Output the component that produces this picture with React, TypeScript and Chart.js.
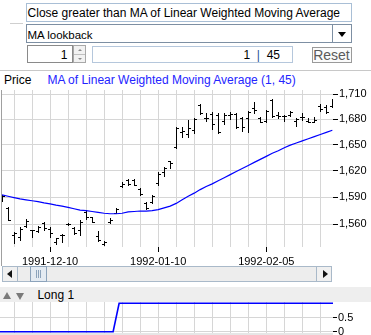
import React, { useEffect, useRef } from 'react';
import { Chart, registerables } from 'chart.js';

Chart.register(...registerables);
Chart.defaults.font.family = 'Arial, "Liberation Sans", sans-serif';

// ---------- data ----------
const barOpen = [
  1589.0, 1578.0, 1547.9, 1545.8, 1557.8, 1553.0, 1552.3, 1560.9, 1554.5, 1539.9,
  1548.5, 1560.4, 1555.6, 1553.4, 1573.2, 1567.8, 1546.8, 1538.7, 1562.2, 1572.2,
  1602.7, 1608.9, 1608.9, 1599.3, 1583.4, 1584.5, 1605.5, 1618.3, 1630.7, 1646.9,
  1664.8, 1662.6, 1667.3, 1697.1, 1681.6, 1686.4, 1685.2, 1678.0, 1685.2, 1686.4,
  1681.6, 1681.9, 1693.5, 1681.5, 1678.0, 1702.5, 1685.2, 1683.6, 1684.6, 1678.0,
  1682.8, 1677.5, 1677.0, 1695.3, 1694.7, 1695.8,
];
const barHigh = [
  1592.4, 1578.6, 1551.6, 1556.9, 1565.2, 1553.4, 1557.8, 1562.3, 1556.3, 1544.8,
  1548.7, 1561.6, 1556.3, 1564.4, 1575.5, 1568.2, 1552.3, 1541.4, 1566.4, 1578.3,
  1607.2, 1610.7, 1610.7, 1600.0, 1584.8, 1592.4, 1618.6, 1624.6, 1631.6, 1671.3,
  1671.2, 1679.2, 1681.3, 1698.2, 1687.6, 1688.1, 1687.2, 1687.6, 1688.6, 1687.4,
  1682.1, 1690.0, 1700.6, 1682.1, 1690.5, 1703.7, 1688.1, 1685.2, 1689.5, 1681.3,
  1687.2, 1681.0, 1682.5, 1698.6, 1697.1, 1703.9,
];
const barLow = [
  1585.6, 1564.0, 1539.6, 1542.5, 1556.9, 1545.4, 1550.9, 1553.4, 1546.0, 1538.7,
  1540.2, 1558.9, 1549.1, 1548.5, 1566.0, 1561.9, 1541.4, 1537.6, 1560.9, 1571.9,
  1601.8, 1603.8, 1603.8, 1592.4, 1577.3, 1583.1, 1603.8, 1613.7, 1622.8, 1646.0,
  1659.1, 1659.5, 1663.4, 1685.8, 1677.4, 1668.5, 1663.4, 1674.5, 1680.4, 1669.8,
  1666.2, 1665.3, 1687.6, 1676.4, 1677.0, 1682.2, 1681.0, 1677.4, 1683.6, 1671.8,
  1679.2, 1676.4, 1676.4, 1689.3, 1687.6, 1695.0,
];
const barClose = [
  1591.3, 1564.5, 1550.0, 1554.5, 1563.7, 1553.0, 1556.7, 1555.6, 1550.1, 1544.4,
  1548.5, 1560.4, 1550.1, 1562.2, 1567.8, 1562.2, 1542.5, 1540.9, 1564.4, 1577.3,
  1605.0, 1605.0, 1604.0, 1593.0, 1578.1, 1591.3, 1616.3, 1623.2, 1628.9, 1669.8,
  1666.0, 1670.1, 1680.0, 1687.6, 1681.0, 1674.5, 1665.4, 1684.6, 1685.8, 1670.9,
  1670.3, 1689.1, 1690.5, 1677.0, 1690.0, 1684.0, 1684.0, 1683.6, 1688.6, 1680.4,
  1682.8, 1677.0, 1678.6, 1691.7, 1688.1, 1703.1,
];
const maValues = [
  1592.5, 1591.0, 1589.5, 1588.0, 1587.0, 1586.0, 1585.0, 1583.5, 1582.5, 1581.0,
  1580.0, 1578.5, 1577.0, 1575.5, 1575.0, 1574.0, 1573.0, 1572.0, 1571.5, 1571.5,
  1572.0, 1573.5, 1574.0, 1574.5, 1574.5, 1575.0, 1576.0, 1578.0, 1580.0, 1583.0,
  1587.0, 1591.0, 1594.5, 1598.5, 1602.0, 1605.0, 1608.5, 1612.0, 1615.5, 1619.0,
  1622.5, 1626.0, 1629.5, 1633.0, 1636.5, 1640.0, 1643.0, 1646.5, 1649.5, 1652.0,
  1654.5, 1657.0, 1659.5, 1662.0, 1664.5, 1667.0,
];
// Long signal, first value belongs to the bar just before the visible window
const signalFirstBar = -1;
const longSignal = [
  0, 0, 0, 0, 0, 0, 0, 0, 0, 0,
  0, 0, 0, 0, 0, 0, 0, 0, 0, 0,
  1, 1, 1, 1, 1, 1, 1, 1, 1, 1,
  1, 1, 1, 1, 1, 1, 1, 1, 1, 1,
  1, 1, 1, 1, 1, 1, 1, 1, 1, 1,
  1, 1, 1, 1, 1, 1, 1,
];
const priceTicks = [1560, 1590, 1620, 1650, 1680, 1710];
const dateLabels = ['1991-12-10', '1992-01-10', '1992-02-05'];
const dateLabelBar = [8, 26, 44];
const signalTicks = [0, 0.5];

// ---------- layout ----------
const W = 371;
const MAIN_TOP = 88;
const MAIN_H = 180;
const PAD_LEFT = 2;
const AXIS_W = 38;
const XAXIS_H = 21;
const PLOT_W = W - PAD_LEFT - AXIS_W;
const X_MIN = 0;
const X_MAX = 55.11;
const PPU = PLOT_W / (X_MAX - X_MIN);
const SIGNAL_SHIFT = 0.5;
const LOW_TOP = 302;
const LOW_H = 50;
const LOW_MIN = X_MIN - SIGNAL_SHIFT - PAD_LEFT / PPU;
const LOW_MAX = X_MAX - SIGNAL_SHIFT;
const GRID = '#d6d6d6';
const FONT = { family: 'Arial, "Liberation Sans", sans-serif', size: 11 };

const gridBars = barOpen.map((_, i) => i).filter((i) => i % 3 === 2);

const ohlcPlugin = {
  id: 'ohlc',
  beforeDatasetsDraw(chart: any) {
    const { ctx, chartArea } = chart;
    const xs = chart.scales.x;
    const ys = chart.scales.y;
    ctx.save();
    ctx.beginPath();
    ctx.rect(chartArea.left, chartArea.top, chartArea.right - chartArea.left, chartArea.bottom - chartArea.top);
    ctx.clip();
    ctx.strokeStyle = '#000';
    ctx.lineWidth = 1;
    ctx.beginPath();
    for (let i = 0; i < barOpen.length; i++) {
      const px = Math.round(xs.getPixelForValue(i)) + 0.5;
      const ph = Math.round(ys.getPixelForValue(barHigh[i]));
      const pl = Math.round(ys.getPixelForValue(barLow[i]));
      const po = Math.round(ys.getPixelForValue(barOpen[i])) + 0.5;
      const pc = Math.round(ys.getPixelForValue(barClose[i])) + 0.5;
      ctx.moveTo(px, ph);
      ctx.lineTo(px, pl + 1);
      ctx.moveTo(px - 2.5, po);
      ctx.lineTo(px - 0.5, po);
      ctx.moveTo(px + 0.5, pc);
      ctx.lineTo(px + 2.5, pc);
    }
    ctx.stroke();
    ctx.restore();
  },
};

function Txt(props: { x: number; y: number; size?: number; color?: string; children: any; style?: any }) {
  const size = props.size ?? 12;
  return (
    <div
      style={{
        position: 'absolute',
        left: props.x,
        top: props.y,
        fontSize: size,
        lineHeight: `${size + 2}px`,
        color: props.color ?? '#000',
        whiteSpace: 'pre',
        ...props.style,
      }}
    >
      {props.children}
    </div>
  );
}

const abs = (s: any) => ({ position: 'absolute', boxSizing: 'border-box', ...s });

export default function App() {
  const mainRef = useRef<HTMLCanvasElement>(null);
  const lowRef = useRef<HTMLCanvasElement>(null);

  useEffect(() => {
    const main = new Chart(mainRef.current as HTMLCanvasElement, {
      type: 'line',
      data: {
        datasets: [
          {
            data: maValues.map((v, i) => ({ x: i, y: v })),
            borderColor: '#0000ff',
            borderWidth: 1.2,
            pointRadius: 0,
            fill: false,
            tension: 0,
          },
        ],
      },
      options: {
        animation: false,
        responsive: false,
        devicePixelRatio: 1,
        events: [],
        layout: { padding: { left: PAD_LEFT, top: 2, right: 0, bottom: 0 } },
        plugins: { legend: { display: false }, tooltip: { enabled: false } },
        scales: {
          x: {
            type: 'linear',
            min: X_MIN,
            max: X_MAX,
            bounds: 'data',
            afterBuildTicks: (s: any) => {
              s.ticks = gridBars.map((v) => ({ value: v }));
            },
            afterFit: (s: any) => {
              s.height = XAXIS_H;
              s.paddingLeft = 0;
              s.paddingRight = 0;
            },
            grid: {
              color: GRID,
              tickLength: 5,
              tickColor: (c: any) =>
                c.tick && dateLabelBar.includes(c.tick.value) ? '#000' : 'rgba(0,0,0,0)',
            },
            border: { display: false },
            ticks: {
              autoSkip: false,
              maxRotation: 0,
              minRotation: 0,
              padding: 3,
              color: '#000',
              font: FONT,
              callback: (v: any) => {
                const k = dateLabelBar.indexOf(Number(v));
                return k >= 0 ? dateLabels[k] : '';
              },
            },
          },
          y: {
            type: 'logarithmic',
            position: 'right',
            min: 1535,
            max: 1715,
            bounds: 'data',
            afterBuildTicks: (s: any) => {
              s.ticks = priceTicks.map((v) => ({ value: v }));
            },
            afterFit: (s: any) => {
              s.width = AXIS_W;
              s.paddingTop = 0;
              s.paddingBottom = 0;
            },
            grid: { color: GRID, tickColor: '#000', tickLength: 5 },
            border: { display: false },
            ticks: {
              padding: 1,
              color: '#000',
              font: FONT,
              callback: (v: any) => Number(v).toLocaleString('en-US'),
            },
          },
        },
      } as any,
      plugins: [ohlcPlugin],
    } as any);

    const low = new Chart(lowRef.current as HTMLCanvasElement, {
      type: 'line',
      data: {
        datasets: [
          {
            data: longSignal.map((v, i) => ({ x: i + signalFirstBar, y: v })),
            borderColor: '#0000ff',
            borderWidth: 1.6,
            pointRadius: 0,
            fill: false,
            tension: 0,
          },
        ],
      },
      options: {
        animation: false,
        responsive: false,
        devicePixelRatio: 1,
        events: [],
        layout: { padding: 0 },
        plugins: { legend: { display: false }, tooltip: { enabled: false } },
        scales: {
          x: {
            type: 'linear',
            min: LOW_MIN,
            max: LOW_MAX,
            bounds: 'data',
            afterBuildTicks: (s: any) => {
              s.ticks = gridBars.map((v) => ({ value: v - SIGNAL_SHIFT }));
            },
            afterFit: (s: any) => {
              s.height = 0;
              s.paddingLeft = 0;
              s.paddingRight = 0;
            },
            grid: { color: GRID, drawTicks: false },
            border: { display: false },
            ticks: { display: false, autoSkip: false },
          },
          y: {
            type: 'linear',
            position: 'right',
            min: -0.715,
            max: 1.046,
            bounds: 'data',
            afterBuildTicks: (s: any) => {
              s.ticks = signalTicks.map((v) => ({ value: v }));
            },
            afterFit: (s: any) => {
              s.width = AXIS_W;
              s.paddingTop = 0;
              s.paddingBottom = 0;
            },
            grid: { color: GRID, tickColor: '#000', tickLength: 4 },
            border: { display: false },
            ticks: { padding: 1, color: '#000', font: FONT, callback: (v: any) => String(v) },
          },
        },
      } as any,
    } as any);

    return () => {
      main.destroy();
      low.destroy();
    };
  }, []);

  return (
    <div
      style={{
        position: 'fixed',
        left: 0,
        top: 0,
        width: W,
        height: 335,
        overflow: 'hidden',
        background: '#fff',
        fontFamily: 'Arial, "Liberation Sans", sans-serif',
      }}
    >
      {/* condition text box */}
      <div style={abs({ left: 26, top: 3, width: 326, height: 19, border: '1px solid #a9bfd6' })} />
      <Txt x={27.6} y={5.6}>Close greater than MA of Linear Weighted Moving Average</Txt>

      {/* faint line */}
      <div style={abs({ left: 10, top: 23, width: 13, height: 1, background: '#cfcfcf' })} />

      {/* dropdown */}
      <div style={abs({ left: 26, top: 24, width: 326, height: 19, border: '1px solid #7d8fa3' })} />
      <div style={abs({ left: 332, top: 25, width: 1, height: 17, background: '#7d8fa3' })} />
      <div
        style={abs({
          left: 338,
          top: 31.5,
          width: 0,
          height: 0,
          borderLeft: '4.5px solid transparent',
          borderRight: '4.5px solid transparent',
          borderTop: '5px solid #000',
        })}
      />
      <Txt x={27.4} y={28.5} size={11.5}>MA lookback</Txt>

      {/* spinner */}
      <div style={abs({ left: 27, top: 45, width: 46, height: 18, border: '1px solid #8a8a8a' })} />
      <Txt x={27} y={48.1} style={{ width: 40.5, textAlign: 'right' }}>1</Txt>
      <div style={abs({ left: 73, top: 45, width: 13, height: 18, border: '1px solid #a8a8a8', background: '#f2f2f2' })} />
      <div style={abs({ left: 74, top: 53.5, width: 11, height: 1, background: '#c0c0c0' })} />
      <div
        style={abs({
          left: 77.5,
          top: 48.5,
          width: 0,
          height: 0,
          borderLeft: '2px solid transparent',
          borderRight: '2px solid transparent',
          borderBottom: '2px solid #8a8a8a',
        })}
      />
      <div
        style={abs({
          left: 77.5,
          top: 57.5,
          width: 0,
          height: 0,
          borderLeft: '2px solid transparent',
          borderRight: '2px solid transparent',
          borderTop: '2px solid #8a8a8a',
        })}
      />

      {/* range field */}
      <div style={abs({ left: 92, top: 45.5, width: 201, height: 17.5, border: '1px solid #b5c7dc' })} />
      <Txt x={92} y={48.1} style={{ width: 188, textAlign: 'right' }}>
        {'1  '}
        <span style={{ color: '#2a4f9a' }}>|</span>
        {'  45'}
      </Txt>

      {/* reset button */}
      <div style={abs({ left: 312, top: 47, width: 40, height: 16, border: '1px solid #9a9a9a', background: '#fbfbfb' })} />
      <Txt x={313.2} y={47.2} size={14} color="#5a5a5a">Reset</Txt>

      {/* chart header */}
      <div style={abs({ left: 0, top: 70, width: W, height: 1, background: '#c8c8c8' })} />
      <Txt x={4.1} y={72.8}>Price</Txt>
      <Txt x={47.4} y={72.8} color="#2424ff">MA of Linear Weighted Moving Average (1, 45)</Txt>

      {/* main chart */}
      <div style={abs({ left: 1, top: 90, width: 1, height: 176, background: '#a0a0a0' })} />
      <canvas
        ref={mainRef}
        width={W}
        height={MAIN_H}
        style={{ position: 'absolute', left: 0, top: MAIN_TOP, width: W, height: MAIN_H }}
      />

      {/* scrollbar */}
      <div style={abs({ left: 2, top: 266, width: 330, height: 16, background: '#ededed', border: '1px solid #a9b9c9' })} />
      <div style={abs({ left: 2, top: 266, width: 16, height: 16, background: '#f0f0f0', border: '1px solid #a9b9c9' })} />
      <div
        style={abs({
          left: 7,
          top: 270,
          width: 0,
          height: 0,
          borderTop: '4px solid transparent',
          borderBottom: '4px solid transparent',
          borderRight: '5px solid #111',
        })}
      />
      <div style={abs({ left: 316, top: 266, width: 16, height: 16, background: '#f0f0f0', border: '1px solid #a9b9c9' })} />
      <div
        style={abs({
          left: 322.5,
          top: 270,
          width: 0,
          height: 0,
          borderTop: '4px solid transparent',
          borderBottom: '4px solid transparent',
          borderLeft: '5px solid #111',
        })}
      />
      <div style={abs({ left: 30, top: 266, width: 17, height: 16, background: '#e4ebf2', border: '1px solid #8ca3bb' })} />
      <div style={abs({ left: 36, top: 270, width: 1, height: 8, background: '#8ca3bb' })} />
      <div style={abs({ left: 38, top: 270, width: 1, height: 8, background: '#8ca3bb' })} />
      <div style={abs({ left: 40, top: 270, width: 1, height: 8, background: '#8ca3bb' })} />

      {/* Long 1 header */}
      <div style={abs({ left: 0, top: 287, width: W, height: 15, background: '#eeeeee' })} />
      <div
        style={abs({
          left: 3,
          top: 292,
          width: 0,
          height: 0,
          borderLeft: '4px solid transparent',
          borderRight: '4px solid transparent',
          borderBottom: '7px solid #7a7a7a',
        })}
      />
      <div
        style={abs({
          left: 16,
          top: 292.5,
          width: 0,
          height: 0,
          borderLeft: '4.5px solid transparent',
          borderRight: '4.5px solid transparent',
          borderTop: '7px solid #7a7a7a',
        })}
      />
      <Txt x={37.4} y={288.3}>Long 1</Txt>

      {/* lower chart */}
      <canvas
        ref={lowRef}
        width={W}
        height={LOW_H}
        style={{ position: 'absolute', left: 0, top: LOW_TOP, width: W, height: LOW_H }}
      />
      <div style={abs({ left: 0, top: 333, width: 333, height: 2, background: '#e6e6e6' })} />
    </div>
  );
}
